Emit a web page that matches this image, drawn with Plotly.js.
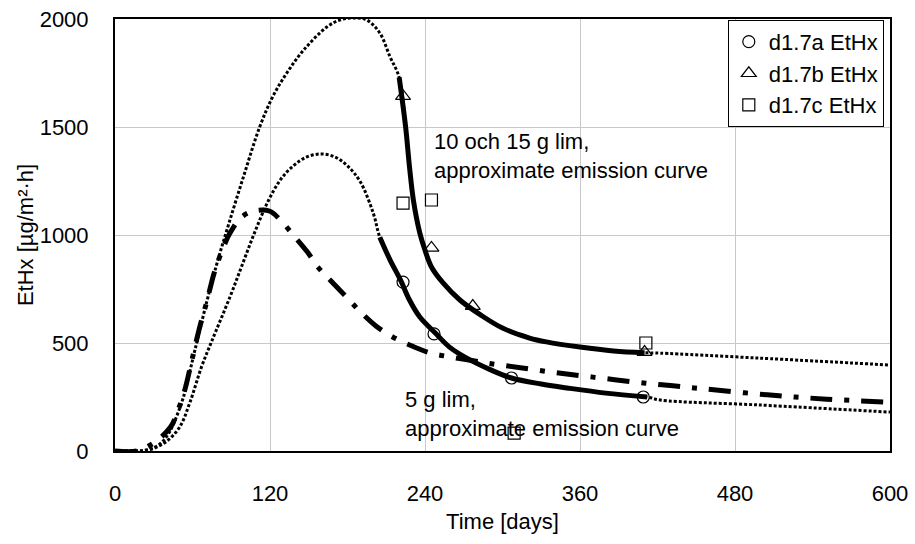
<!DOCTYPE html>
<html>
<head>
<meta charset="utf-8">
<script src="https://cdn.plot.ly/plotly-3.0.1.min.js"></script>
<style>html,body{margin:0;padding:0;background:#fff;}#chart{width:915px;height:544px;}</style>
</head>
<body>
<div id="chart"></div>
<script>
// Approximate emission curve, 10 och 15 g lim (dotted full curve)
const upperFitDays = [0,15,22,30,37,43,48,53,58,62,71,79,88,100,112,122,133,146,164,174,184,195,205,213,220,225,228,231,236,240,245,254,267,283,300,321,334,360,386,410,422,499,600];
const upperFitVals = [0,0,2,15,45,97,165,250,370,470,690,870,1050,1280,1500,1639,1750,1856,1963,1995,2005,1995,1935,1824,1730,1500,1315,1162,1009,930,852,778,699,630,569,523,505,481,463,455,453,430,398];
// Solid (fitted) part, 10 och 15 g lim
const upperSolidDays = [220,225,228,231,236,240,245,254,267,283,300,321,334,360,386,410];
const upperSolidVals = [1730,1500,1315,1162,1009,930,852,778,699,630,569,523,505,481,463,455];
// Approximate emission curve, 5 g lim (dotted full curve)
const lowerFitDays = [0,15,22,30,40,50,58,67,75,89,99,108,118,128,138,148,159,170,180,190,200,205,213,221,228,236,248,259,272,290,307,330,350,380,412,422,499,600];
const lowerFitVals = [0,0,2,12,45,110,225,390,510,713,870,1010,1150,1255,1320,1360,1375,1362,1320,1245,1100,990,884,792,699,620,546,481,431,378,338,310,292,268,250,236,213,180];
// Solid (fitted) part, 5 g lim
const lowerSolidDays = [205,213,221,228,236,248,259,272,290,307,330,350,380,412];
const lowerSolidVals = [990,884,792,699,620,546,481,431,378,338,310,292,268,250];
// Dash-dot curve
const dashDotDays = [0,17,31,43,48,54,59,65,71,77,84,89,98,108,120,128,138,149,157,168,180,190,202,215,230,244,259,275,290,311,338,370,409,432,457,505,551,600];
const dashDotVals = [0,0,42,111,176,282,407,560,690,829,944,1009,1083,1112,1110,1069,1000,921,852,782,708,644,579,528,486,454,436,420,405,388,365,342,315,302,287,260,240,226];
// Measured points
const seriesNames = ['d1.7a EtHx','d1.7b EtHx','d1.7c EtHx'];
const aDays = [223,247,307,409];
const aVals = [782,542,338,250];
const bDays = [223,245,277,410];
const bVals = [1643,940,671,458];
const cDays = [223,245,309,411];
const cVals = [1148,1162,83,500];
const xTicks = [0,120,240,360,480,600];
const yTicks = [0,500,1000,1500,2000];

const FONT = 'Liberation Sans, Arial, sans-serif';
const dotted = {color:'#000', width:3, dash:'3px,2px', shape:'spline', smoothing:1};
const traces = [
  {x:upperFitDays, y:upperFitVals, mode:'lines', line:dotted, showlegend:false, hoverinfo:'skip'},
  {x:lowerFitDays, y:lowerFitVals, mode:'lines', line:dotted, showlegend:false, hoverinfo:'skip'},
  {x:dashDotDays, y:dashDotVals, mode:'lines', line:{color:'#000', width:5, dash:'22px,12px,5px,12px', shape:'spline', smoothing:1}, showlegend:false, hoverinfo:'skip'},
  {x:upperSolidDays, y:upperSolidVals, mode:'lines', line:{color:'#000', width:5, shape:'spline', smoothing:1}, showlegend:false, hoverinfo:'skip'},
  {x:lowerSolidDays, y:lowerSolidVals, mode:'lines', line:{color:'#000', width:5, shape:'spline', smoothing:1}, showlegend:false, hoverinfo:'skip'},
  {x:aDays, y:aVals, name:seriesNames[0], mode:'markers', marker:{symbol:'circle-open', size:12, color:'#000', line:{width:1.2, color:'#000'}}},
  {x:bDays, y:bVals, name:seriesNames[1], mode:'markers', marker:{symbol:'triangle-up-open', size:13, color:'#000', line:{width:1.2, color:'#000'}}},
  {x:cDays, y:cVals, name:seriesNames[2], mode:'markers', marker:{symbol:'square-open', size:12, color:'#000', line:{width:1.2, color:'#000'}}}
];

const layout = {
  width:915, height:544,
  margin:{l:115, r:25, t:19, b:93},
  paper_bgcolor:'#fff', plot_bgcolor:'#fff',
  font:{family:FONT, size:22, color:'#000'},
  showlegend:true,
  legend:{x:0.992, xanchor:'right', y:0.998, yanchor:'top', bgcolor:'#fff', bordercolor:'#000', borderwidth:1,
          font:{family:FONT, size:22, color:'#000'}, itemwidth:30, tracegroupgap:0},
  xaxis:{range:[0,600], tickvals:xTicks, ticktext:xTicks.map(String), showgrid:true, gridcolor:'#c8c8c8', gridwidth:1,
         showline:true, mirror:true, linecolor:'#000', linewidth:2, zeroline:false, ticks:'', ticklabelstandoff:22,
         tickfont:{family:FONT, size:22}, title:{text:'Time [days]', font:{family:FONT, size:22}, standoff:8}},
  yaxis:{range:[0,2000], tickvals:yTicks, ticktext:yTicks.map(String), showgrid:true, gridcolor:'#c8c8c8', gridwidth:1,
         showline:true, mirror:true, linecolor:'#000', linewidth:2, zeroline:false, ticks:'', ticklabelstandoff:20,
         tickfont:{family:FONT, size:22}, title:{text:'EtHx [µg/m²·h]', font:{family:FONT, size:22}, standoff:0}},
  annotations:[
    {x:245.5, y:1366, xref:'x', yref:'y', text:'10 och 15 g lim,<br>approximate emission curve', showarrow:false,
     xanchor:'left', yanchor:'middle', align:'left', font:{family:FONT, size:22, color:'#000'}},
    {x:223, y:171, xref:'x', yref:'y', text:'5 g lim,<br>approximate emission curve', showarrow:false,
     xanchor:'left', yanchor:'middle', align:'left', font:{family:FONT, size:22, color:'#000'}}
  ]
};
Plotly.newPlot('chart', traces, layout, {staticPlot:true, displayModeBar:false});
</script>
</body>
</html>
